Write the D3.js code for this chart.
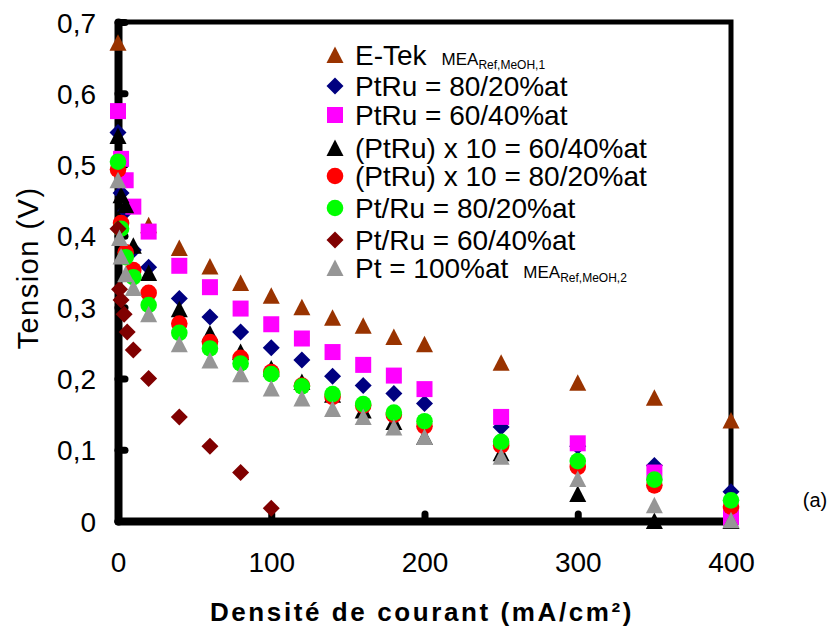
<!DOCTYPE html>
<html><head><meta charset="utf-8">
<script src="https://cdn.jsdelivr.net/npm/d3@7"></script>
<style>
body{margin:0;background:#fff;}
svg{display:block;font-family:"Liberation Sans",Arial,Helvetica,sans-serif;}
</style></head>
<body><svg id="c" width="830" height="631"></svg>
<script>
// ---------- data ----------
const seriesNames = ["E-Tek","PtRu = 80/20%at","PtRu = 60/40%at","(PtRu) x 10 = 60/40%at","(PtRu) x 10 = 80/20%at","Pt/Ru = 80/20%at","Pt/Ru = 60/40%at","Pt = 100%at"];
const seriesColors = ["#993300","#000080","#FF00FF","#000000","#FF0000","#00FF00","#800000","#969696"];
const seriesShapes = ["triangle","diamond","square","triangle","circle","circle","diamond","triangle"];
const seriesNotes = ["1","","","","","","","2"]; // MEA_Ref,MeOH,n annotation

const xETek = [0,20,40,60,80,100,120,140,160,180,200,250,300,350,400];
const yETek = [0.671,0.415,0.383,0.357,0.334,0.316,0.300,0.285,0.274,0.258,0.248,0.222,0.194,0.173,0.141];

const xStd = [0,2,5,10,20,40,60,80,100,120,140,160,180,200,250,300,350,400];
const yPtRu8020 = [0.545,0.46,0.435,0.38,0.356,0.312,0.286,0.265,0.243,0.226,0.203,0.190,0.179,0.165,0.132,0.105,0.078,0.041];
const yPtRu6040 = [0.575,0.508,0.478,0.441,0.406,0.358,0.328,0.298,0.276,0.256,0.237,0.219,0.204,0.185,0.146,0.109,0.068,0.005];
const yX10_6040 = [0.54,0.457,0.443,0.386,0.348,0.297,0.263,0.237,0.214,0.195,0.177,0.155,0.139,0.118,0.095,0.038,0.0,0.0];
const yX10_8020 = [0.493,0.418,0.377,0.352,0.320,0.277,0.251,0.229,0.209,0.190,0.174,0.162,0.149,0.133,0.106,0.076,0.050,0.020];
const ySlash8020 = [0.504,0.410,0.370,0.342,0.303,0.264,0.242,0.221,0.206,0.189,0.178,0.164,0.152,0.140,0.111,0.084,0.058,0.029];
const xSlash6040 = [0,1,2,4,6,10,20,40,60,80,100];
const ySlash6040 = [0.41,0.325,0.31,0.29,0.265,0.24,0.200,0.146,0.105,0.068,0.018];
const xPt = [0,1,2,5,10,20,40,60,80,100,120,140,160,180,200,250,300,350,400];
const yPt = [0.478,0.397,0.371,0.346,0.327,0.290,0.248,0.225,0.206,0.186,0.172,0.157,0.146,0.131,0.118,0.090,0.059,0.022,0.001];

const xTicks = [0,100,200,300,400];
const yTicks = [0,0.1,0.2,0.3,0.4,0.5,0.6,0.7];
const xTitle = "Densité de courant (mA/cm²)";
const yTitle = "Tension (V)";
const panelLabel = "(a)";

const seriesX = [xETek,xStd,xStd,xStd,xStd,xStd,xSlash6040,xPt];
const seriesY = [yETek,yPtRu8020,yPtRu6040,yX10_6040,yX10_8020,ySlash8020,ySlash6040,yPt];

// ---------- chart ----------
const svg = d3.select("#c");
const L=118, R=731, T=22, B=521;
const x = d3.scaleLinear().domain([0,400]).range([L,R]);
const y = d3.scaleLinear().domain([0,0.7]).range([B,T]);

function shapePath(shape){
  if(shape==="triangle") return "M0,-8.5L8.5,8L-8.5,8Z";
  if(shape==="diamond") return "M0,-8.5L8.5,0L0,8.5L-8.5,0Z";
  if(shape==="square") return "M-8,-8H8V8H-8Z";
  return d3.symbol(d3.symbolCircle, Math.PI*8.3*8.3)();
}

// frame top/right
svg.append("path").attr("d",`M${L},${T}H${R}V${B}`).attr("fill","none").attr("stroke","#000").attr("stroke-width",5);

// axes
const gx = svg.append("g").attr("transform",`translate(0,${B})`)
  .call(d3.axisBottom(x).tickValues(xTicks).tickSizeInner(-7).tickSizeOuter(0).tickPadding(51).tickFormat(d3.format("d")));
const gy = svg.append("g").attr("transform",`translate(${L},0)`)
  .call(d3.axisLeft(y).tickValues(yTicks).tickSizeInner(-7).tickSizeOuter(0).tickPadding(22).tickFormat(d=> d===0?"0":d3.format(".1f")(d).replace(".",",")));
[gx,gy].forEach(g=>{
  g.select(".domain").attr("stroke","#000").attr("stroke-width",8).attr("stroke-linecap","round");
  g.selectAll(".tick line").attr("stroke","#000").attr("stroke-width",7).attr("stroke-linecap","round");
  g.selectAll(".tick text").attr("fill","#000").attr("font-size",28).attr("font-family","Liberation Sans, Arial, sans-serif");
});
gx.selectAll(".tick text").attr("dy","0");
gy.selectAll(".tick text").attr("dy","0.36em");

// points
seriesNames.forEach((n,i)=>{
  const pts = seriesX[i].map((v,k)=>[v,seriesY[i][k]]);
  svg.append("g").selectAll("path").data(pts).join("path")
    .attr("d",shapePath(seriesShapes[i]))
    .attr("transform",d=>`translate(${x(d[0])},${y(d[1])})`)
    .attr("fill",seriesColors[i]);
});

// legend
const legY = [55,86,115,148,176,208,240,268];
const lg = svg.append("g");
seriesNames.forEach((n,i)=>{
  lg.append("path").attr("d",shapePath(seriesShapes[i])).attr("transform",`translate(335,${legY[i]})`).attr("fill",seriesColors[i]);
  const t = lg.append("text").attr("x",355).attr("y",legY[i]+10).attr("font-size",28).attr("fill","#000").text(n);
  if(seriesNotes[i]){
    t.append("tspan").attr("dx",15).attr("font-size",17).text("MEA");
    t.append("tspan").attr("font-size",12).attr("dy",4).text("Ref,MeOH,"+seriesNotes[i]);
  }
});

// titles
svg.append("text").attr("x",422).attr("y",621).attr("text-anchor","middle").attr("font-size",26).attr("font-weight","bold").attr("letter-spacing",2.6).text(xTitle);
svg.append("text").attr("transform","translate(38,268) rotate(-90)").attr("text-anchor","middle").attr("font-size",29).attr("letter-spacing",1.5).text(yTitle);
svg.append("text").attr("x",815).attr("y",507).attr("text-anchor","middle").attr("font-size",20).text(panelLabel);
</script></body></html>
